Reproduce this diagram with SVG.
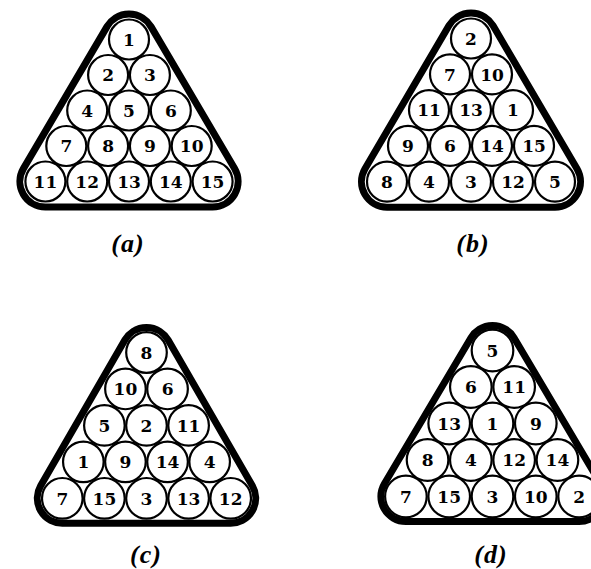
<svg xmlns="http://www.w3.org/2000/svg" width="591" height="569" viewBox="0 0 591 569">
<style>
.rack{fill:none;stroke:#000;stroke-width:7;stroke-linejoin:round}
.ball circle{fill:#fff;stroke:#000;stroke-width:2.2}
.ball text{font-family:"DejaVu Serif","Liberation Serif",serif;font-weight:bold;font-size:17px;text-anchor:middle;fill:#000}
.cap{font-family:"Liberation Serif","DejaVu Serif",serif;font-style:italic;font-weight:bold;font-size:26px;text-anchor:middle;fill:#000;letter-spacing:1px}
</style>
<rect width="591" height="569" fill="#fff"/>
<g id="connectors"/>

<g id="rack-a">
<path class="rack" d="M107,26.6 L23.4,168.6 A25.5,25.5 0 0 0 45.4,207 L212.6,207 A25.5,25.5 0 0 0 234.6,168.6 L151,26.6 A25.5,25.5 0 0 0 107,26.6 Z"/>
<g id="a-1" class="ball"><circle cx="129" cy="39.5" r="20"/><text x="129" y="45.7">1</text></g>
<g id="a-2" class="ball"><circle cx="108.1" cy="75" r="20"/><text x="108.1" y="81.2">2</text></g>
<g id="a-3" class="ball"><circle cx="149.9" cy="75" r="20"/><text x="149.9" y="81.2">3</text></g>
<g id="a-4" class="ball"><circle cx="87.2" cy="110.5" r="20"/><text x="87.2" y="116.7">4</text></g>
<g id="a-5" class="ball"><circle cx="129" cy="110.5" r="20"/><text x="129" y="116.7">5</text></g>
<g id="a-6" class="ball"><circle cx="170.8" cy="110.5" r="20"/><text x="170.8" y="116.7">6</text></g>
<g id="a-7" class="ball"><circle cx="66.3" cy="146" r="20"/><text x="66.3" y="152.2">7</text></g>
<g id="a-8" class="ball"><circle cx="108.1" cy="146" r="20"/><text x="108.1" y="152.2">8</text></g>
<g id="a-9" class="ball"><circle cx="149.9" cy="146" r="20"/><text x="149.9" y="152.2">9</text></g>
<g id="a-10" class="ball"><circle cx="191.7" cy="146" r="20"/><text x="191.7" y="152.2">10</text></g>
<g id="a-11" class="ball"><circle cx="45.4" cy="181.5" r="20"/><text x="45.4" y="187.7">11</text></g>
<g id="a-12" class="ball"><circle cx="87.2" cy="181.5" r="20"/><text x="87.2" y="187.7">12</text></g>
<g id="a-13" class="ball"><circle cx="129" cy="181.5" r="20"/><text x="129" y="187.7">13</text></g>
<g id="a-14" class="ball"><circle cx="170.8" cy="181.5" r="20"/><text x="170.8" y="187.7">14</text></g>
<g id="a-15" class="ball"><circle cx="212.6" cy="181.5" r="20"/><text x="212.6" y="187.7">15</text></g>
<text class="cap" x="128" y="252">(a)</text>
</g>

<g id="rack-b">
<path class="rack" d="M449,25.6 L365,168.8 A25.5,25.5 0 0 0 387,207.2 L555,207.2 A25.5,25.5 0 0 0 577,168.8 L493,25.6 A25.5,25.5 0 0 0 449,25.6 Z"/>
<g id="b-2" class="ball"><circle cx="471" cy="38.5" r="20"/><text x="471" y="44.7">2</text></g>
<g id="b-7" class="ball"><circle cx="450" cy="74.3" r="20"/><text x="450" y="80.5">7</text></g>
<g id="b-10" class="ball"><circle cx="492" cy="74.3" r="20"/><text x="492" y="80.5">10</text></g>
<g id="b-11" class="ball"><circle cx="429" cy="110.1" r="20"/><text x="429" y="116.3">11</text></g>
<g id="b-13" class="ball"><circle cx="471" cy="110.1" r="20"/><text x="471" y="116.3">13</text></g>
<g id="b-1" class="ball"><circle cx="513" cy="110.1" r="20"/><text x="513" y="116.3">1</text></g>
<g id="b-9" class="ball"><circle cx="408" cy="145.9" r="20"/><text x="408" y="152.1">9</text></g>
<g id="b-6" class="ball"><circle cx="450" cy="145.9" r="20"/><text x="450" y="152.1">6</text></g>
<g id="b-14" class="ball"><circle cx="492" cy="145.9" r="20"/><text x="492" y="152.1">14</text></g>
<g id="b-15" class="ball"><circle cx="534" cy="145.9" r="20"/><text x="534" y="152.1">15</text></g>
<g id="b-8" class="ball"><circle cx="387" cy="181.7" r="20"/><text x="387" y="187.9">8</text></g>
<g id="b-4" class="ball"><circle cx="429" cy="181.7" r="20"/><text x="429" y="187.9">4</text></g>
<g id="b-3" class="ball"><circle cx="471" cy="181.7" r="20"/><text x="471" y="187.9">3</text></g>
<g id="b-12" class="ball"><circle cx="513" cy="181.7" r="20"/><text x="513" y="187.9">12</text></g>
<g id="b-5" class="ball"><circle cx="555" cy="181.7" r="20"/><text x="555" y="187.9">5</text></g>
<text class="cap" x="473" y="252">(b)</text>
</g>

<g id="rack-c">
<path class="rack" d="M124.85,340 L40.65,485.8 A25,25 0 0 0 62.3,523.3 L230.7,523.3 A25,25 0 0 0 252.35,485.8 L168.15,340 A25,25 0 0 0 124.85,340 Z"/>
<g id="c-8" class="ball"><circle cx="146.5" cy="352.5" r="20.3"/><text x="146.5" y="358.7">8</text></g>
<g id="c-10" class="ball"><circle cx="125.45" cy="388.95" r="20.3"/><text x="125.45" y="395.15">10</text></g>
<g id="c-6" class="ball"><circle cx="167.55" cy="388.95" r="20.3"/><text x="167.55" y="395.15">6</text></g>
<g id="c-5" class="ball"><circle cx="104.4" cy="425.4" r="20.3"/><text x="104.4" y="431.6">5</text></g>
<g id="c-2" class="ball"><circle cx="146.5" cy="425.4" r="20.3"/><text x="146.5" y="431.6">2</text></g>
<g id="c-11" class="ball"><circle cx="188.6" cy="425.4" r="20.3"/><text x="188.6" y="431.6">11</text></g>
<g id="c-1" class="ball"><circle cx="83.35" cy="461.85" r="20.3"/><text x="83.35" y="468.05">1</text></g>
<g id="c-9" class="ball"><circle cx="125.45" cy="461.85" r="20.3"/><text x="125.45" y="468.05">9</text></g>
<g id="c-14" class="ball"><circle cx="167.55" cy="461.85" r="20.3"/><text x="167.55" y="468.05">14</text></g>
<g id="c-4" class="ball"><circle cx="209.65" cy="461.85" r="20.3"/><text x="209.65" y="468.05">4</text></g>
<g id="c-7" class="ball"><circle cx="62.3" cy="498.3" r="20.3"/><text x="62.3" y="504.5">7</text></g>
<g id="c-15" class="ball"><circle cx="104.4" cy="498.3" r="20.3"/><text x="104.4" y="504.5">15</text></g>
<g id="c-3" class="ball"><circle cx="146.5" cy="498.3" r="20.3"/><text x="146.5" y="504.5">3</text></g>
<g id="c-13" class="ball"><circle cx="188.6" cy="498.3" r="20.3"/><text x="188.6" y="504.5">13</text></g>
<g id="c-12" class="ball"><circle cx="230.7" cy="498.3" r="20.3"/><text x="230.7" y="504.5">12</text></g>
<text class="cap" x="146" y="563">(c)</text>
</g>

<g id="rack-d">
<path class="rack" d="M471,337.75 L384.4,483.75 A25,25 0 0 0 405.9,521.5 L579.1,521.5 A25,25 0 0 0 600.6,483.75 L514,337.75 A25,25 0 0 0 471,337.75 Z"/>
<g id="d-5" class="ball"><circle cx="492.5" cy="350.5" r="20.8"/><text x="492.5" y="356.7">5</text></g>
<g id="d-6" class="ball"><circle cx="470.85" cy="387" r="20.8"/><text x="470.85" y="393.2">6</text></g>
<g id="d-11" class="ball"><circle cx="514.15" cy="387" r="20.8"/><text x="514.15" y="393.2">11</text></g>
<g id="d-13" class="ball"><circle cx="449.2" cy="423.5" r="20.8"/><text x="449.2" y="429.7">13</text></g>
<g id="d-1" class="ball"><circle cx="492.5" cy="423.5" r="20.8"/><text x="492.5" y="429.7">1</text></g>
<g id="d-9" class="ball"><circle cx="535.8" cy="423.5" r="20.8"/><text x="535.8" y="429.7">9</text></g>
<g id="d-8" class="ball"><circle cx="427.55" cy="460" r="20.8"/><text x="427.55" y="466.2">8</text></g>
<g id="d-4" class="ball"><circle cx="470.85" cy="460" r="20.8"/><text x="470.85" y="466.2">4</text></g>
<g id="d-12" class="ball"><circle cx="514.15" cy="460" r="20.8"/><text x="514.15" y="466.2">12</text></g>
<g id="d-14" class="ball"><circle cx="557.45" cy="460" r="20.8"/><text x="557.45" y="466.2">14</text></g>
<g id="d-7" class="ball"><circle cx="405.9" cy="496.5" r="20.8"/><text x="405.9" y="502.7">7</text></g>
<g id="d-15" class="ball"><circle cx="449.2" cy="496.5" r="20.8"/><text x="449.2" y="502.7">15</text></g>
<g id="d-3" class="ball"><circle cx="492.5" cy="496.5" r="20.8"/><text x="492.5" y="502.7">3</text></g>
<g id="d-10" class="ball"><circle cx="535.8" cy="496.5" r="20.8"/><text x="535.8" y="502.7">10</text></g>
<g id="d-2" class="ball"><circle cx="579.1" cy="496.5" r="20.8"/><text x="579.1" y="502.7">2</text></g>
<text class="cap" x="491" y="563">(d)</text>
</g>
</svg>
